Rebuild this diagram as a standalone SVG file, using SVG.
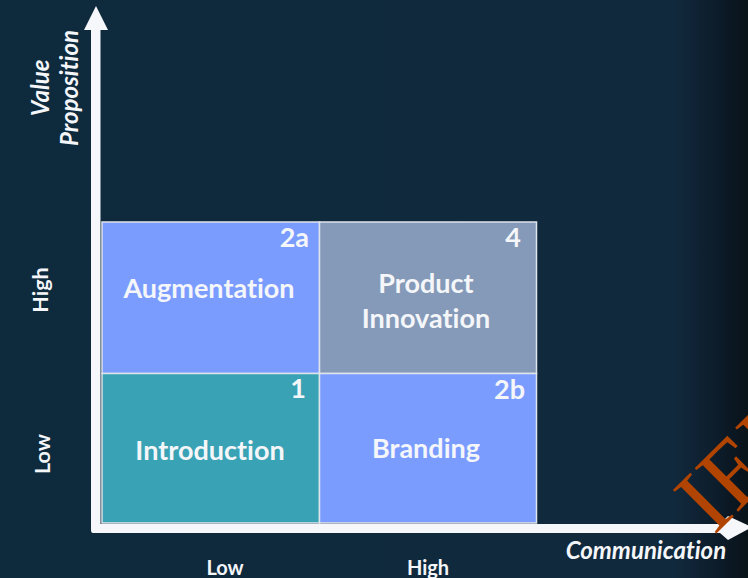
<svg xmlns="http://www.w3.org/2000/svg" width="748" height="578" viewBox="0 0 748 578">
<defs>
<linearGradient id="bg" x1="0" y1="0" x2="1" y2="0"><stop offset="0" stop-color="#0e2a3d"/><stop offset="0.9" stop-color="#11293d"/><stop offset="0.96" stop-color="#0d1c2a"/><stop offset="1" stop-color="#081219"/></linearGradient>
</defs>
<style>
text{font-family:Lato,"Open Sans",sans-serif;fill:#f4f6f9;font-weight:700;font-variant-ligatures:none}
.lbl{font-size:27px;text-anchor:middle}
.num{font-size:27px;text-anchor:end}
.ax{font-size:20px;text-anchor:middle}
.axr{font-size:21.500px;text-anchor:middle}
.axi{font-size:24px;font-style:italic;text-anchor:middle}
.cell{stroke:#dfe4ea;stroke-width:1.500}
.axis{fill:#f5f7fa}
</style>
<rect width="748" height="578" fill="url(#bg)"/>
<g id="connectors">
<path class="axis" d="M91 530V30H84L96 6L108 30H100.500V524H720L728 516L752 527L728 540L720 533H93Q91 533 91 530Z"/>
</g>
<g id="node-2a"><rect class="cell" x="102" y="222" width="217.500" height="151.500" fill="#7b9cff"/><text class="lbl" x="209" y="298">Augmentation</text><text class="num" x="309" y="247">2a</text></g>
<g id="node-4"><rect class="cell" x="319.500" y="222" width="217" height="151.500" fill="#859ab8"/><text class="lbl" x="426" y="293">Product</text><text class="lbl" x="426" y="328">Innovation</text><text class="num" x="521" y="247">4</text></g>
<g id="node-1"><rect class="cell" x="102" y="373.500" width="217.500" height="149.500" fill="#39a2b5"/><text class="lbl" x="210" y="460">Introduction</text><text class="num" x="306" y="398">1</text></g>
<g id="node-2b"><rect class="cell" x="319.500" y="373.500" width="217" height="149.500" fill="#7b9cff"/><text class="lbl" x="426" y="458">Branding</text><text class="num" x="525" y="399">2b</text></g>
<g id="axis-labels">
<text class="axi" transform="translate(49 88) rotate(-90)">Value</text>
<text class="axi" transform="translate(78 88) rotate(-90)">Proposition</text>
<text class="axr" transform="translate(48 290) rotate(-90)">High</text>
<text class="axr" transform="translate(50 454) rotate(-90)">Low</text>
<text class="ax" x="225" y="575">Low</text>
<text class="ax" x="428" y="575">High</text>
<text class="axi" x="646" y="559">Communication</text>
</g>
<text transform="translate(714 536) rotate(-45)" style="font-family:'Liberation Serif',serif;font-size:94px;font-weight:400;fill:#b04400">IEE</text>
</svg>
